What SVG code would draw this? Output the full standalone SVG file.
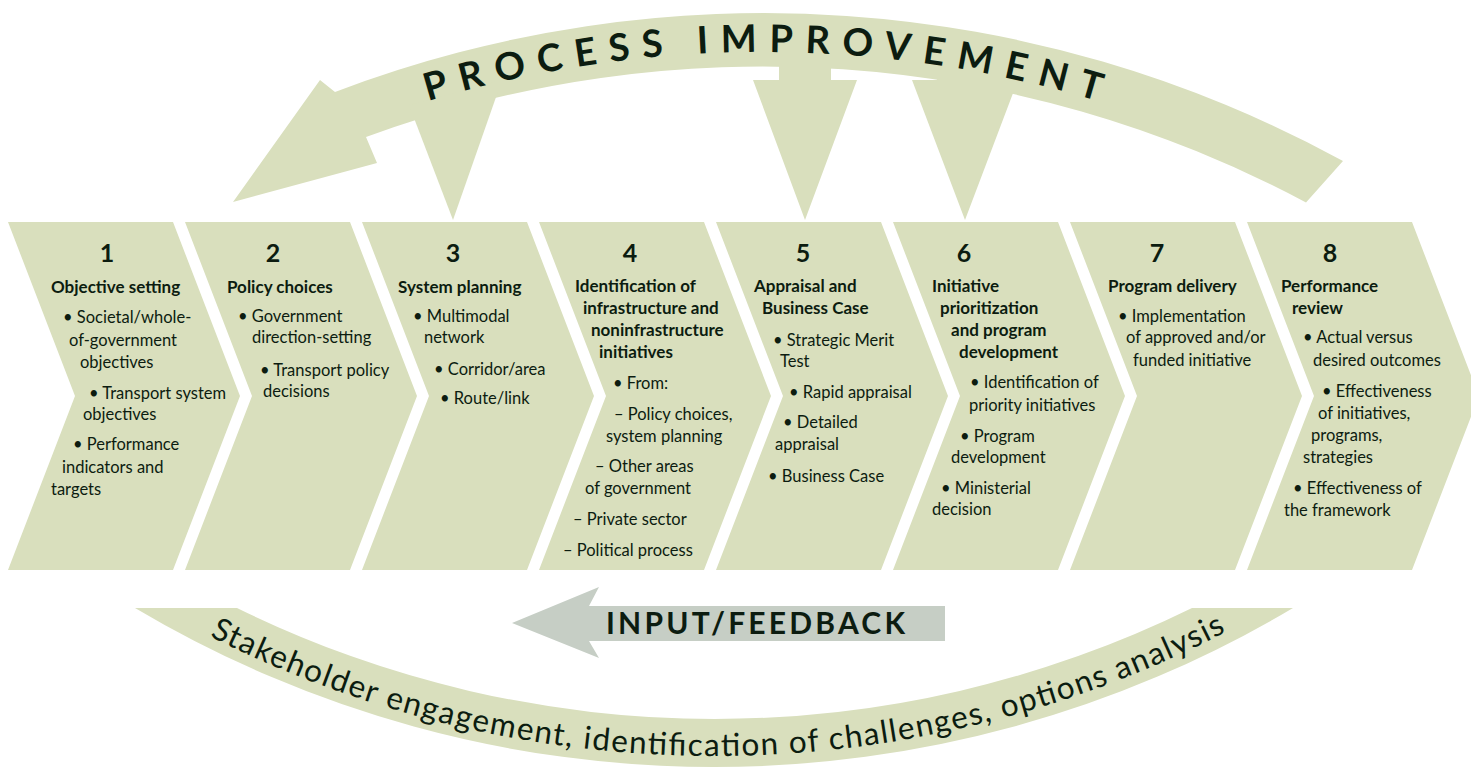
<svg xmlns="http://www.w3.org/2000/svg" xmlns:xlink="http://www.w3.org/1999/xlink" width="1471" height="768" viewBox="0 0 1471 768">
<defs>
<style>
.fill{fill:#d9dfbd}
.gray{fill:#c6cec5}
text{font-family:"Lato","Noto Sans",sans-serif;fill:#0c1c10}
.n{font-size:25px;font-weight:700;text-anchor:middle}
.t{font-size:17px;font-weight:700}
.b{font-size:16.5px;font-weight:400}
.big{font-size:38px;font-weight:700}
.mid{font-size:30px;font-weight:700}
.low{font-size:31.5px;font-weight:400}
</style>
<polygon id="chev" points="0,222 165,222 232,396 165,570 0,570 67,396"/>
<path id="topArc" d="M425,102 A1166,1166 0 0,1 1120,108"/>
<path id="botArc" d="M205,634 A1121,1121 0 0,0 1245,622"/>
</defs>
<rect width="1471" height="768" fill="#ffffff"/>

<g id="connectors">
  <path id="process-improvement-band" class="fill" d="M1343,161 A1206.6,1206.6 0 0,0 335,92 L320,80 L233,202 L377,163 L366,137 A1152.6,1152.6 0 0,1 1306,202.5 Z"/>
  <polygon id="arrow-to-3" class="fill" points="409,105 502,80 453,220"/>
  <polygon id="arrow-to-5" class="fill" points="779,50 831,50 831,80 857,80 805,220 753,80 779,80"/>
  <polygon id="arrow-to-6" class="fill" points="937,60 990,60 990,80 1018,80 965,220 912,80 937,80"/>
  <text class="big"><textPath href="#topArc" xlink:href="#topArc" startOffset="3" textLength="680" lengthAdjust="spacing">PROCESS IMPROVEMENT</textPath></text>
  <path id="stakeholder-band" class="fill" d="M135,608 L237,608 A1082.6,1082.6 0 0,0 1192,608 L1293,608 A1133.7,1133.7 0 0,1 135,608 Z"/>
  <text class="low"><textPath href="#botArc" xlink:href="#botArc" startOffset="5" textLength="1055" lengthAdjust="spacing">Stakeholder engagement, identification of challenges, options analysis</textPath></text>
  <polygon id="input-feedback-arrow" class="gray" points="512,623 599,587 589,606 945,606 945,641 589,641 599,658"/>
  <text class="mid" x="606" y="634" textLength="299" lengthAdjust="spacing">INPUT/FEEDBACK</text>
</g>

<g id="step1">
  <use href="#chev" xlink:href="#chev" x="8" class="fill"/>
  <text class="n" x="107" y="262">1</text>
  <text class="t" x="51" y="293">Objective setting</text>
  <text class="b" x="63" y="323">• Societal/whole-</text>
  <text class="b" x="69" y="346">of-government</text>
  <text class="b" x="80" y="368">objectives</text>
  <text class="b" x="89" y="399">• Transport system</text>
  <text class="b" x="83" y="420">objectives</text>
  <text class="b" x="73" y="450">• Performance</text>
  <text class="b" x="62" y="473">indicators and</text>
  <text class="b" x="51" y="495">targets</text>
</g>

<g id="step2">
  <use href="#chev" xlink:href="#chev" x="185" class="fill"/>
  <text class="n" x="273" y="262">2</text>
  <text class="t" x="227" y="293">Policy choices</text>
  <text class="b" x="238" y="322">• Government</text>
  <text class="b" x="252" y="343">direction-setting</text>
  <text class="b" x="260" y="376">• Transport policy</text>
  <text class="b" x="263" y="397">decisions</text>
</g>

<g id="step3">
  <use href="#chev" xlink:href="#chev" x="362" class="fill"/>
  <text class="n" x="453" y="262">3</text>
  <text class="t" x="398" y="293">System planning</text>
  <text class="b" x="413" y="322">• Multimodal</text>
  <text class="b" x="424" y="343">network</text>
  <text class="b" x="434" y="375">• Corridor/area</text>
  <text class="b" x="440" y="404">• Route/link</text>
</g>

<g id="step4">
  <use href="#chev" xlink:href="#chev" x="539" class="fill"/>
  <text class="n" x="630" y="262">4</text>
  <text class="t" x="575" y="292">Identification of</text>
  <text class="t" x="583" y="314">infrastructure and</text>
  <text class="t" x="591" y="336">noninfrastructure</text>
  <text class="t" x="599" y="358">initiatives</text>
  <text class="b" x="613" y="389">• From:</text>
  <text class="b" x="614" y="420">– Policy choices,</text>
  <text class="b" x="606" y="442">system planning</text>
  <text class="b" x="595" y="472">– Other areas</text>
  <text class="b" x="585" y="494">of government</text>
  <text class="b" x="573" y="525">– Private sector</text>
  <text class="b" x="563" y="556">– Political process</text>
</g>

<g id="step5">
  <use href="#chev" xlink:href="#chev" x="716" class="fill"/>
  <text class="n" x="803" y="262">5</text>
  <text class="t" x="754" y="292">Appraisal and</text>
  <text class="t" x="762" y="314">Business Case</text>
  <text class="b" x="773" y="346">• Strategic Merit</text>
  <text class="b" x="780" y="367">Test</text>
  <text class="b" x="789" y="398">• Rapid appraisal</text>
  <text class="b" x="783" y="428">• Detailed</text>
  <text class="b" x="775" y="450">appraisal</text>
  <text class="b" x="768" y="482">• Business Case</text>
</g>

<g id="step6">
  <use href="#chev" xlink:href="#chev" x="893" class="fill"/>
  <text class="n" x="964" y="262">6</text>
  <text class="t" x="932" y="292">Initiative</text>
  <text class="t" x="940" y="314">prioritization</text>
  <text class="t" x="951" y="336">and program</text>
  <text class="t" x="959" y="358">development</text>
  <text class="b" x="970" y="388">• Identification of</text>
  <text class="b" x="969" y="411">priority initiatives</text>
  <text class="b" x="960" y="442">• Program</text>
  <text class="b" x="951" y="463">development</text>
  <text class="b" x="941" y="494">• Ministerial</text>
  <text class="b" x="932" y="515">decision</text>
</g>

<g id="step7">
  <use href="#chev" xlink:href="#chev" x="1070" class="fill"/>
  <text class="n" x="1157" y="262">7</text>
  <text class="t" x="1108" y="292">Program delivery</text>
  <text class="b" x="1118" y="322">• Implementation</text>
  <text class="b" x="1126" y="343">of approved and/or</text>
  <text class="b" x="1133" y="366">funded initiative</text>
</g>

<g id="step8">
  <use href="#chev" xlink:href="#chev" x="1247" class="fill"/>
  <text class="n" x="1330" y="262">8</text>
  <text class="t" x="1281" y="292">Performance</text>
  <text class="t" x="1292" y="314">review</text>
  <text class="b" x="1303" y="343">• Actual versus</text>
  <text class="b" x="1313" y="366">desired outcomes</text>
  <text class="b" x="1322" y="397">• Effectiveness</text>
  <text class="b" x="1318" y="419">of initiatives,</text>
  <text class="b" x="1311" y="441">programs,</text>
  <text class="b" x="1303" y="463">strategies</text>
  <text class="b" x="1293" y="494">• Effectiveness of</text>
  <text class="b" x="1284" y="516">the framework</text>
</g>
</svg>
